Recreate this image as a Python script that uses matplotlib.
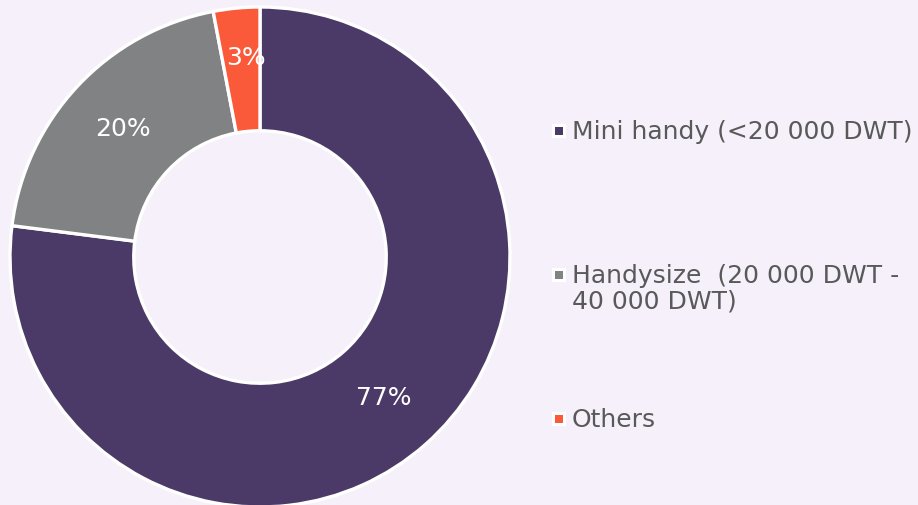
import matplotlib
matplotlib.use("Agg")
import matplotlib.pyplot as plt

categories = ["Mini handy (<20 000 DWT)", "Handysize  (20 000 DWT -\n40 000 DWT)", "Others"]
values = [77, 20, 3]
colors = ["#4B3A68", "#808283", "#FA5A3A"]
bg = "#F5F0FA"

W, H = 918, 505
fig = plt.figure(figsize=(W / 100, H / 100), dpi=100, facecolor=bg)

# pie axes: center (260, 257 from top), radius 250 px
cx, cy, r = 260, 257, 250
ax = fig.add_axes([(cx - r) / W, (H - cy - r) / H, 2 * r / W, 2 * r / H])
ax.set_facecolor(bg)
wedges, texts, autotexts = ax.pie(
    values, colors=colors, startangle=90, counterclock=False, radius=1,
    autopct=lambda p: f"{p:.0f}%", pctdistance=0.75,
    wedgeprops=dict(width=0.495, edgecolor="white", linewidth=2.4),
    textprops=dict(color="white", fontsize=18),
)
# small slice label sits a bit further out
t = autotexts[2]
x, y = t.get_position()
t.set_position((x * 0.8 / 0.75 + 0.02, y * 0.8 / 0.75))
ax.set_xlim(-1, 1)
ax.set_ylim(-1, 1)
ax.set_aspect("equal")
ax.axis("off")

# legend
ys = [131, 275, 419]
for lab, col, yy in zip(categories, colors, ys):
    fig.patches.append(plt.Rectangle((552 / W, (H - yy - 7) / H), 14 / W, 14 / H,
                                     transform=fig.transFigure, facecolor="white",
                                     edgecolor="none"))
    fig.patches.append(plt.Rectangle((555 / W, (H - yy - 4) / H), 8 / W, 8 / H,
                                     transform=fig.transFigure, facecolor=col,
                                     edgecolor="none"))
    fig.text(572 / W, (H - yy + 11) / H, lab, ha="left", va="top", color="#595959",
             fontsize=18, linespacing=1.07)

fig.savefig("out.png", dpi=100, facecolor=bg)
